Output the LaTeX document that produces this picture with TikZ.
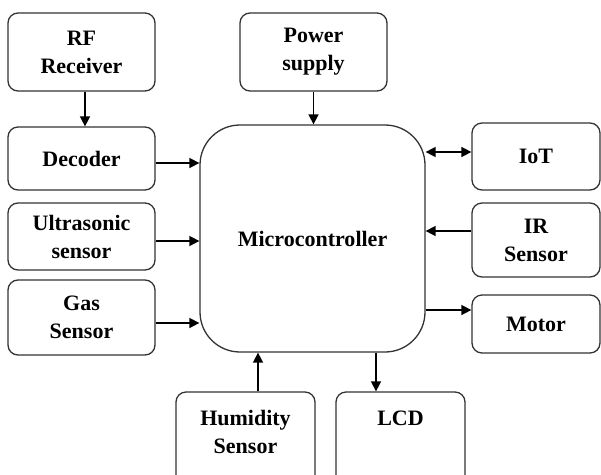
\documentclass[tikz,border=0pt]{standalone}
\usepackage{fontspec}
\setmainfont{Liberation Serif}
\usetikzlibrary{positioning,calc,arrows.meta}

\tikzset{
    block/.style={draw=black!80, line width=1.3pt, rounded corners=10pt, align=center,
        font=\fontsize{22}{28}\selectfont\bfseries, inner sep=2pt},
    arr/.style={line width=1.6pt, -{Triangle[length=10pt,width=10pt]}},
    biarr/.style={line width=1.6pt, {Triangle[length=10pt,width=10pt]}-{Triangle[length=10pt,width=10pt]}}
}

\begin{document}
\begin{tikzpicture}[x=1pt,y=-1pt]
    \useasboundingbox (0,0) rectangle (601,474);

    % Controller
    \node[block, rounded corners=40pt, minimum width=225pt, minimum height=227pt] (mcu) at (312.5,238.5) {Microcontroller};

    % Left side
    \node[block, minimum width=147pt, minimum height=78pt] (rf) at (81.5,52) {RF\\Receiver};
    \node[block, minimum width=147pt, minimum height=63pt] (dec) at (81.5,158.5) {Decoder};
    \node[block, minimum width=147pt, minimum height=67pt] (ult) at (81.5,236.5) {Ultrasonic\\sensor};
    \node[block, minimum width=147pt, minimum height=75pt] (gas) at (81.5,317.5) {Gas\\Sensor};

    % Top
    \node[block, minimum width=147pt, minimum height=78pt] (pwr) at (313.5,52) {Power\\supply};

    % Right side
    \node[block, minimum width=128pt, minimum height=67pt] (iot) at (536,156.5) {IoT};
    \node[block, minimum width=128pt, minimum height=74pt] (ir) at (536,240) {IR\\Sensor};
    \node[block, minimum width=128pt, minimum height=58pt] (mot) at (536,324) {Motor};

    % Bottom (boxes run past the lower edge)
    \node[block, minimum width=139pt, minimum height=108pt] (hum) at (245.5,446) {Humidity\\Sensor\\\mbox{}};
    \node[block, minimum width=129pt, minimum height=108pt] (lcd) at (400.5,446) {LCD\\\mbox{}\\\mbox{}};

    % Connections
    \draw[arr] ([xshift=3.5pt]rf.south) -- ([xshift=3.5pt]dec.north);
    \draw[arr] (pwr.south) -- (pwr.south |- mcu.north);
    \draw[arr] ([yshift=-4.5pt]dec.east) -- ([yshift=-4.5pt]dec.east -| mcu.west);
    \draw[arr] ([yshift=-4.5pt]ult.east) -- ([yshift=-4.5pt]ult.east -| mcu.west);
    \draw[arr] ([yshift=-5.5pt]gas.east) -- ([yshift=-5.5pt]gas.east -| mcu.west);
    \draw[biarr] ([yshift=4.5pt]iot.west -| mcu.east) -- ([yshift=4.5pt]iot.west);
    \draw[arr] ([yshift=9pt]ir.west) -- ([yshift=9pt]ir.west -| mcu.east);
    \draw[arr] ([yshift=14pt]mot.west -| mcu.east) -- ([yshift=14pt]mot.west);
    \draw[arr] ([xshift=12.5pt]hum.north) -- ([xshift=12.5pt]hum.north |- mcu.south);
    \draw[arr] ([xshift=-24.5pt]lcd.north |- mcu.south) -- ([xshift=-24.5pt]lcd.north);
\end{tikzpicture}
\end{document}
